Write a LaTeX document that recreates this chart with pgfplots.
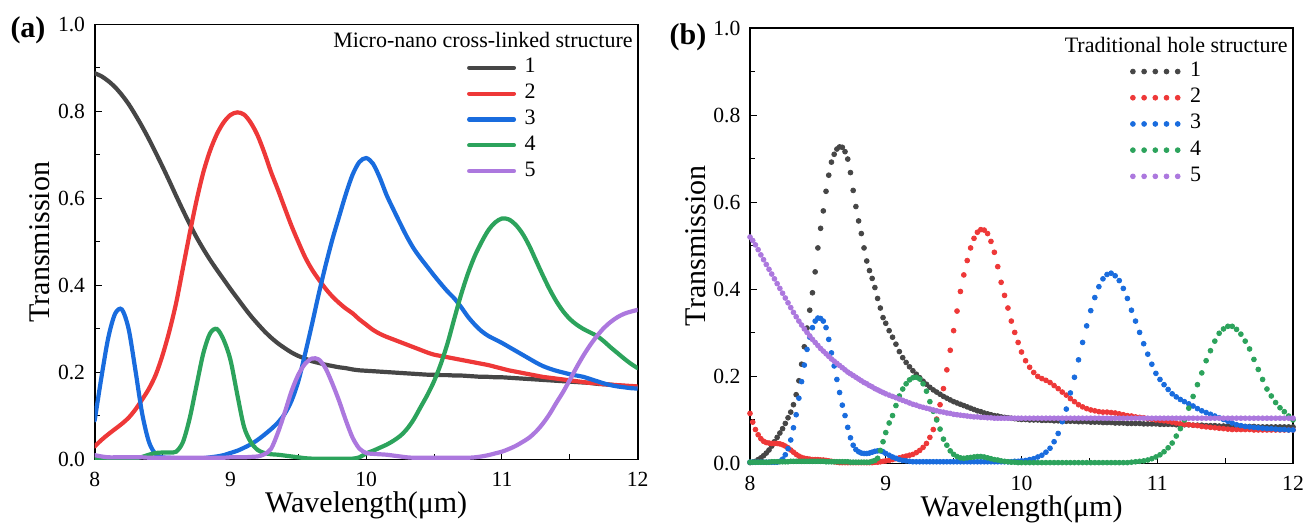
\documentclass[border=0pt]{standalone}
\usepackage{fontspec}
\setmainfont{Liberation Serif}
\usepackage{pgfplots}
\usepackage{pgfplotstable}
\pgfplotsset{compat=1.18}

\definecolor{cK}{RGB}{70,70,70}
\definecolor{cR}{RGB}{238,56,56}
\definecolor{cB}{RGB}{25,108,222}
\definecolor{cG}{RGB}{44,163,92}
\definecolor{cP}{RGB}{172,120,222}

% (a) micro-nano cross-linked structure
\pgfplotstableread{
x k r b g p
8.00 0.888 0.030 0.090 0.002 0.010
8.05 0.881 0.045 0.190 0.002 0.007
8.10 0.870 0.058 0.280 0.002 0.005
8.15 0.856 0.070 0.335 0.002 0.005
8.20 0.838 0.082 0.345 0.002 0.005
8.25 0.817 0.096 0.300 0.002 0.005
8.30 0.792 0.115 0.205 0.003 0.005
8.35 0.765 0.138 0.105 0.006 0.005
8.40 0.736 0.163 0.040 0.011 0.004
8.45 0.705 0.195 0.012 0.015 0.004
8.50 0.673 0.240 0.005 0.016 0.004
8.55 0.640 0.295 0.004 0.016 0.004
8.60 0.606 0.360 0.003 0.018 0.004
8.65 0.573 0.440 0.003 0.040 0.004
8.70 0.541 0.520 0.003 0.095 0.004
8.75 0.511 0.595 0.003 0.170 0.004
8.80 0.484 0.660 0.003 0.244 0.004
8.85 0.459 0.710 0.005 0.290 0.004
8.90 0.436 0.748 0.007 0.300 0.004
8.95 0.414 0.775 0.010 0.275 0.004
9.00 0.392 0.792 0.015 0.229 0.005
9.05 0.371 0.798 0.020 0.150 0.005
9.10 0.350 0.793 0.027 0.075 0.005
9.15 0.330 0.774 0.035 0.040 0.006
9.20 0.312 0.745 0.045 0.022 0.007
9.25 0.295 0.705 0.057 0.015 0.012
9.30 0.280 0.660 0.070 0.012 0.025
9.35 0.267 0.620 0.085 0.011 0.062
9.40 0.256 0.578 0.105 0.009 0.108
9.45 0.246 0.537 0.135 0.007 0.157
9.50 0.238 0.500 0.180 0.005 0.195
9.55 0.232 0.465 0.243 0.003 0.220
9.60 0.226 0.437 0.310 0.002 0.232
9.65 0.222 0.414 0.380 0.002 0.230
9.70 0.218 0.393 0.445 0.002 0.210
9.75 0.215 0.375 0.505 0.002 0.175
9.80 0.212 0.360 0.558 0.002 0.135
9.85 0.210 0.347 0.610 0.002 0.090
9.90 0.207 0.336 0.655 0.002 0.050
9.95 0.205 0.322 0.684 0.005 0.025
10.00 0.204 0.310 0.693 0.014 0.015
10.05 0.203 0.298 0.680 0.020 0.013
10.10 0.202 0.289 0.648 0.027 0.012
10.15 0.201 0.282 0.608 0.034 0.011
10.20 0.200 0.276 0.575 0.043 0.009
10.25 0.199 0.270 0.543 0.054 0.007
10.30 0.198 0.264 0.512 0.070 0.005
10.35 0.197 0.258 0.485 0.092 0.004
10.40 0.196 0.252 0.463 0.120 0.004
10.45 0.195 0.246 0.443 0.148 0.004
10.50 0.195 0.241 0.423 0.180 0.004
10.55 0.194 0.238 0.404 0.220 0.004
10.60 0.194 0.235 0.386 0.268 0.004
10.65 0.193 0.232 0.370 0.325 0.004
10.70 0.193 0.229 0.350 0.380 0.004
10.75 0.192 0.226 0.328 0.428 0.004
10.80 0.191 0.223 0.310 0.468 0.005
10.85 0.190 0.220 0.295 0.500 0.007
10.90 0.190 0.217 0.284 0.527 0.010
10.95 0.189 0.213 0.276 0.545 0.014
11.00 0.189 0.209 0.268 0.554 0.018
11.05 0.188 0.205 0.259 0.552 0.024
11.10 0.187 0.202 0.250 0.540 0.031
11.15 0.186 0.199 0.241 0.520 0.040
11.20 0.185 0.196 0.232 0.492 0.050
11.25 0.184 0.193 0.223 0.458 0.064
11.30 0.183 0.190 0.215 0.424 0.082
11.35 0.182 0.188 0.209 0.392 0.104
11.40 0.181 0.186 0.204 0.364 0.130
11.45 0.180 0.184 0.200 0.341 0.155
11.50 0.179 0.182 0.196 0.323 0.183
11.55 0.178 0.180 0.193 0.310 0.212
11.60 0.177 0.178 0.190 0.300 0.239
11.65 0.176 0.176 0.185 0.292 0.263
11.70 0.174 0.175 0.180 0.284 0.284
11.75 0.173 0.173 0.175 0.272 0.302
11.80 0.172 0.172 0.171 0.258 0.316
11.85 0.170 0.171 0.168 0.245 0.327
11.90 0.169 0.170 0.166 0.232 0.335
11.95 0.167 0.169 0.164 0.220 0.340
12.00 0.166 0.168 0.163 0.210 0.344
}\tabA

% (b) traditional hole structure
\pgfplotstableread{
x k r b g p
8.00 0.002 0.115 0.003 0.003 0.520
8.02 0.003 0.095 0.003 0.003 0.512
8.04 0.005 0.078 0.003 0.003 0.502
8.06 0.009 0.066 0.003 0.003 0.491
8.08 0.013 0.057 0.003 0.003 0.479
8.10 0.018 0.051 0.003 0.003 0.468
8.12 0.024 0.048 0.003 0.003 0.457
8.14 0.031 0.047 0.003 0.003 0.446
8.16 0.040 0.046 0.003 0.004 0.435
8.18 0.050 0.046 0.003 0.004 0.424
8.20 0.060 0.046 0.003 0.004 0.413
8.22 0.070 0.045 0.005 0.004 0.402
8.24 0.080 0.043 0.010 0.004 0.391
8.26 0.092 0.040 0.020 0.004 0.380
8.28 0.105 0.036 0.034 0.004 0.369
8.30 0.118 0.031 0.054 0.005 0.358
8.32 0.135 0.026 0.082 0.005 0.347
8.34 0.158 0.021 0.112 0.005 0.337
8.36 0.190 0.017 0.150 0.005 0.327
8.38 0.228 0.014 0.188 0.005 0.318
8.40 0.268 0.012 0.226 0.005 0.309
8.42 0.311 0.011 0.262 0.005 0.301
8.44 0.352 0.010 0.290 0.005 0.293
8.46 0.392 0.009 0.312 0.005 0.285
8.48 0.440 0.009 0.327 0.005 0.278
8.50 0.495 0.009 0.334 0.005 0.271
8.52 0.540 0.008 0.333 0.005 0.264
8.54 0.580 0.008 0.327 0.005 0.258
8.56 0.625 0.007 0.312 0.004 0.252
8.58 0.662 0.006 0.285 0.004 0.246
8.60 0.692 0.005 0.254 0.004 0.240
8.62 0.710 0.004 0.224 0.004 0.235
8.64 0.722 0.003 0.193 0.004 0.230
8.66 0.727 0.002 0.163 0.004 0.225
8.68 0.726 0.002 0.134 0.004 0.220
8.70 0.716 0.002 0.110 0.004 0.215
8.72 0.699 0.002 0.083 0.004 0.210
8.74 0.668 0.002 0.059 0.003 0.206
8.76 0.627 0.002 0.042 0.003 0.202
8.78 0.590 0.002 0.032 0.003 0.198
8.80 0.557 0.002 0.027 0.003 0.194
8.82 0.528 0.002 0.024 0.003 0.190
8.84 0.495 0.002 0.023 0.003 0.186
8.86 0.465 0.002 0.023 0.003 0.183
8.88 0.443 0.002 0.024 0.003 0.179
8.90 0.425 0.002 0.026 0.005 0.176
8.92 0.404 0.003 0.028 0.007 0.172
8.94 0.379 0.003 0.029 0.012 0.169
8.96 0.357 0.004 0.029 0.030 0.166
8.98 0.335 0.005 0.027 0.050 0.163
9.00 0.322 0.006 0.023 0.071 0.160
9.025 0.305 0.007 0.019 0.093 0.157
9.050 0.290 0.009 0.015 0.110 0.154
9.075 0.274 0.011 0.012 0.133 0.151
9.100 0.257 0.013 0.009 0.155 0.148
9.125 0.243 0.015 0.007 0.171 0.145
9.150 0.232 0.017 0.006 0.183 0.142
9.175 0.222 0.019 0.005 0.192 0.139
9.200 0.213 0.021 0.004 0.197 0.136
9.225 0.205 0.025 0.004 0.198 0.134
9.250 0.197 0.030 0.004 0.194 0.131
9.275 0.189 0.037 0.004 0.183 0.129
9.300 0.182 0.046 0.004 0.166 0.127
9.325 0.175 0.060 0.004 0.142 0.125
9.350 0.169 0.078 0.004 0.120 0.123
9.375 0.164 0.102 0.004 0.100 0.121
9.400 0.159 0.135 0.004 0.079 0.119
9.425 0.154 0.172 0.004 0.056 0.118
9.450 0.150 0.215 0.004 0.042 0.116
9.475 0.146 0.260 0.004 0.029 0.115
9.500 0.142 0.305 0.004 0.021 0.113
9.525 0.139 0.350 0.004 0.016 0.112
9.550 0.136 0.395 0.004 0.013 0.111
9.575 0.133 0.433 0.004 0.012 0.110
9.600 0.130 0.466 0.004 0.013 0.109
9.625 0.127 0.495 0.004 0.014 0.108
9.650 0.124 0.517 0.004 0.015 0.107
9.675 0.121 0.531 0.004 0.016 0.107
9.700 0.119 0.537 0.004 0.016 0.106
9.725 0.116 0.536 0.004 0.015 0.106
9.750 0.114 0.528 0.004 0.013 0.105
9.775 0.112 0.510 0.004 0.011 0.105
9.800 0.110 0.485 0.004 0.009 0.104
9.825 0.109 0.452 0.004 0.008 0.104
9.850 0.107 0.416 0.004 0.006 0.104
9.875 0.106 0.386 0.004 0.005 0.104
9.900 0.105 0.357 0.004 0.004 0.104
9.925 0.104 0.327 0.004 0.003 0.104
9.950 0.103 0.301 0.005 0.003 0.104
9.975 0.102 0.278 0.005 0.002 0.104
10.000 0.101 0.256 0.006 0.002 0.104
10.03 0.101 0.236 0.007 0.002 0.104
10.06 0.100 0.221 0.009 0.002 0.104
10.09 0.100 0.209 0.011 0.002 0.104
10.12 0.100 0.200 0.015 0.002 0.104
10.15 0.099 0.195 0.019 0.002 0.104
10.18 0.099 0.191 0.026 0.002 0.104
10.21 0.099 0.186 0.035 0.002 0.104
10.24 0.098 0.179 0.050 0.002 0.104
10.27 0.098 0.172 0.069 0.002 0.104
10.30 0.098 0.164 0.096 0.002 0.104
10.33 0.097 0.157 0.125 0.002 0.104
10.36 0.097 0.149 0.162 0.002 0.104
10.39 0.097 0.142 0.198 0.002 0.104
10.42 0.096 0.135 0.238 0.002 0.104
10.45 0.096 0.130 0.278 0.002 0.104
10.48 0.096 0.126 0.316 0.002 0.104
10.51 0.095 0.123 0.351 0.002 0.104
10.54 0.095 0.121 0.381 0.002 0.104
10.57 0.095 0.119 0.406 0.002 0.104
10.60 0.094 0.118 0.424 0.002 0.104
10.63 0.094 0.118 0.434 0.002 0.104
10.66 0.094 0.117 0.437 0.002 0.104
10.69 0.093 0.116 0.431 0.002 0.104
10.72 0.093 0.114 0.420 0.002 0.104
10.75 0.093 0.112 0.402 0.002 0.104
10.78 0.092 0.110 0.379 0.002 0.104
10.81 0.092 0.109 0.352 0.003 0.104
10.84 0.092 0.107 0.327 0.004 0.104
10.87 0.092 0.106 0.301 0.005 0.104
10.90 0.091 0.105 0.275 0.006 0.104
10.93 0.091 0.103 0.251 0.008 0.104
10.96 0.091 0.102 0.228 0.011 0.104
10.99 0.091 0.100 0.207 0.015 0.104
11.02 0.090 0.099 0.193 0.020 0.104
11.05 0.090 0.098 0.181 0.027 0.104
11.08 0.090 0.097 0.170 0.036 0.104
11.11 0.090 0.095 0.160 0.047 0.104
11.14 0.089 0.093 0.153 0.063 0.104
11.17 0.089 0.091 0.147 0.080 0.104
11.20 0.089 0.090 0.142 0.100 0.104
11.232 0.089 0.089 0.137 0.127 0.104
11.264 0.088 0.088 0.132 0.154 0.104
11.296 0.088 0.087 0.126 0.181 0.104
11.328 0.088 0.085 0.121 0.208 0.104
11.360 0.087 0.084 0.117 0.236 0.104
11.392 0.087 0.083 0.113 0.259 0.104
11.424 0.087 0.082 0.109 0.281 0.104
11.456 0.086 0.081 0.105 0.299 0.104
11.488 0.086 0.080 0.101 0.309 0.104
11.520 0.086 0.079 0.097 0.315 0.104
11.552 0.086 0.078 0.093 0.315 0.104
11.584 0.085 0.078 0.089 0.308 0.104
11.616 0.085 0.078 0.087 0.297 0.104
11.648 0.085 0.078 0.085 0.281 0.104
11.680 0.085 0.078 0.084 0.263 0.104
11.712 0.085 0.077 0.083 0.239 0.104
11.744 0.084 0.077 0.082 0.216 0.104
11.776 0.084 0.077 0.081 0.193 0.104
11.808 0.084 0.077 0.080 0.171 0.104
11.840 0.084 0.077 0.080 0.155 0.104
11.872 0.084 0.077 0.079 0.140 0.104
11.904 0.084 0.077 0.078 0.128 0.104
11.936 0.084 0.077 0.078 0.119 0.104
11.968 0.084 0.077 0.077 0.109 0.104
12.000 0.084 0.077 0.077 0.100 0.104
}\tabB

\pgfplotsset{
  panel/.style={
    scale only axis, width=271.5pt,
    xmin=8, xmax=12, ymin=0, ymax=1,
    xtick={8,9,10,11,12}, minor x tick num=1,
    ytick={0,0.2,0.4,0.6,0.8,1.0}, minor y tick num=1,
    tick pos=left, tick align=inside,
    major tick length=3.5pt, minor tick length=2.5pt,
    every tick/.style={black, line width=0.5pt},
    axis line style={line width=0.8pt},
    /pgf/number format/assume math mode=true,
    tick label style={font=\fontsize{10.8}{12}\selectfont},
    yticklabel style={/pgf/number format/.cd, fixed, fixed zerofill, precision=1, /tikz/.cd, xshift=-1.3pt},
    xticklabel style={yshift=-3pt},
    label style={font=\fontsize{15}{17}\selectfont},
    xlabel={Wavelength(μm)},
    ylabel={Transmission},
    xlabel style={at={(axis description cs:0.5,-0.1046)}, anchor=center},
    legend cell align=left,
  },
}

\begin{document}
\begin{tikzpicture}
\path[use as bounding box] (0,0) rectangle (652.5pt,262pt);

\begin{axis}[panel,
  at={(47.35pt,32.25pt)}, anchor=south west, height=217.5pt,
  ylabel style={at={(axis description cs:-0.1007,0.5)}, anchor=center},
  legend style={at={(0.685,0.931)}, anchor=north west, draw=none, fill=none,
    inner sep=0pt, row sep=0pt, font=\fontsize{11}{12}\selectfont,
    nodes={inner sep=1pt, text height=8pt, text depth=2.9pt},
    /tikz/every odd column/.append style={column sep=3.3pt}},
  legend image code/.code={\draw[#1] (1.05pt,0pt) -- (23.45pt,0pt);},
  every axis plot/.append style={line width=2.1pt, line cap=round, smooth},
]
\addplot[cK] table[x=x, y=k] {\tabA};
\addplot[cR] table[x=x, y=r] {\tabA};
\addplot[cB] table[x=x, y=b] {\tabA};
\addplot[cG] table[x=x, y=g] {\tabA};
\addplot[cP] table[x=x, y=p] {\tabA};
\legend{1,2,3,4,5}
\node[anchor=east, inner sep=0pt, font=\fontsize{11}{12}\selectfont]
  at (rel axis cs:0.9914,0.964) {Micro-nano cross-linked structure};
\end{axis}

\begin{axis}[panel,
  at={(375pt,30.25pt)}, anchor=south west, height=217.75pt,
  ylabel style={at={(axis description cs:-0.0994,0.5)}, anchor=center},
  legend style={at={(0.700,0.931)}, anchor=north west, draw=none, fill=none,
    inner sep=0pt, row sep=0pt, font=\fontsize{11}{12}\selectfont,
    nodes={inner sep=1pt, text height=8pt, text depth=3.1pt},
    /tikz/every odd column/.append style={column sep=4pt}},
  legend image code/.code={\draw[#1] plot[only marks] coordinates {(1.2pt,0pt) (6.8pt,0pt) (12.4pt,0pt) (18pt,0pt) (23.6pt,0pt)};},
  every axis plot/.append style={only marks, mark=*, mark size=1.2pt},
]
\addplot[cK, mark options={fill=cK, draw=cK}] table[x=x, y=k] {\tabB};
\addplot[cR, mark options={fill=cR, draw=cR}] table[x=x, y=r] {\tabB};
\addplot[cB, mark options={fill=cB, draw=cB}] table[x=x, y=b] {\tabB};
\addplot[cG, mark options={fill=cG, draw=cG}] table[x=x, y=g] {\tabB};
\addplot[cP, mark options={fill=cP, draw=cP}] table[x=x, y=p] {\tabB};
\legend{1,2,3,4,5}
\node[anchor=east, inner sep=0pt, font=\fontsize{11}{12}\selectfont]
  at (rel axis cs:0.9908,0.961) {Traditional hole structure};
\end{axis}

\node[font=\bfseries\fontsize{15}{17}\selectfont] at (14pt,247pt) {(a)};
\node[font=\bfseries\fontsize{15}{17}\selectfont] at (344pt,243.5pt) {(b)};
\end{tikzpicture}
\end{document}
